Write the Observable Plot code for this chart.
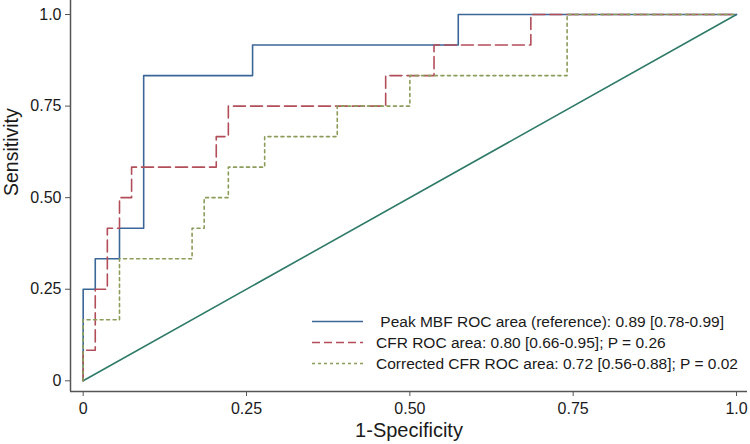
<!DOCTYPE html>
<html>
<head>
<meta charset="utf-8">
<script src="https://cdn.jsdelivr.net/npm/d3@7"></script>
<script src="https://cdn.jsdelivr.net/npm/@observablehq/plot@0.6"></script>
<style>
  html, body { margin: 0; padding: 0; background: #fff; }
  #wrap { position: relative; width: 750px; height: 444px; font-family: "Liberation Sans", Arial, Helvetica, sans-serif; }
  #legend { position: absolute; left: 312px; top: 311px; }
  .row { display: flex; align-items: center; height: 21px; font-size: 15.5px; color: #1a1a1a; white-space: pre; }
  .row svg { width: 52px; height: 21px; margin-right: 12px; flex: none; }
</style>
</head>
<body>
<div id="wrap"></div>
<script>
// ---- data ----
const seriesNames = [
  " Peak MBF ROC area (reference): 0.89 [0.78-0.99]",
  "CFR ROC area: 0.80 [0.66-0.95]; P = 0.26",
  "Corrected CFR ROC area: 0.72 [0.56-0.88]; P = 0.02"
];
// ROC step points (1-specificity, sensitivity)
const mbfX = [0, 0, 0.0185, 0.0556, 0.0926, 0.2593, 0.5741, 1];
const mbfY = [0, 0.25, 0.3333, 0.4167, 0.8333, 0.9167, 1, 1];
const cfrX = [0, 0, 0.0185, 0.0370, 0.0556, 0.0741, 0.2037, 0.2222, 0.4630, 0.5370, 0.6852, 1];
const cfrY = [0, 0.0833, 0.25, 0.4167, 0.5, 0.5833, 0.6667, 0.75, 0.8333, 0.9167, 1, 1];
const corrX = [0, 0, 0.0556, 0.1667, 0.1852, 0.2222, 0.2778, 0.3889, 0.5, 0.7407, 1];
const corrY = [0, 0.1667, 0.3333, 0.4167, 0.5, 0.5833, 0.6667, 0.75, 0.8333, 1, 1];
const refX = [0, 1];
const refY = [0, 1];
const tickValues = [0, 0.25, 0.5, 0.75, 1];
const tickLabels = ["0", "0.25", "0.50", "0.75", "1.0"];
const xTitle = "1-Specificity";
const yTitle = "Sensitivity";

const colors = { mbf: "#3b6698", cfr: "#b24d5a", corr: "#8c9c5a", ref: "#2f7b68" };
const dashes = { mbf: null, cfr: "12,5", corr: "3,3.5" };
const legendDashes = { mbf: null, cfr: "8,4", corr: "3,3" };

const pts = (xs, ys) => xs.map((x, i) => ({x, y: ys[i]}));
const mbf = pts(mbfX, mbfY), cfr = pts(cfrX, cfrY), corr = pts(corrX, corrY), ref = pts(refX, refY);

const xDom = [-0.0194, 1.0168];
const yDom = [-0.0292, 1.0383];
const fmt = d => tickLabels[tickValues.indexOf(d)];

const plot = Plot.plot({
  width: 750,
  height: 444,
  marginLeft: 70,
  marginRight: 3,
  marginTop: 0,
  marginBottom: 53,
  style: { fontFamily: "'Liberation Sans', Arial, Helvetica, sans-serif", background: "#fff" },
  x: { domain: xDom },
  y: { domain: yDom },
  marks: [
    Plot.line(ref, {x: "x", y: "y", stroke: colors.ref, strokeWidth: 1.6}),
    Plot.line(mbf, {x: "x", y: "y", curve: "step-after", stroke: colors.mbf, strokeWidth: 1.6}),
    Plot.line(cfr, {x: "x", y: "y", curve: "step-after", stroke: colors.cfr, strokeWidth: 1.6, strokeDasharray: dashes.cfr}),
    Plot.line(corr, {x: "x", y: "y", curve: "step-after", stroke: colors.corr, strokeWidth: 1.6, strokeDasharray: dashes.corr}),
    Plot.ruleX([xDom[0]], {stroke: "#555", strokeWidth: 1.5}),
    Plot.ruleY([yDom[0]], {stroke: "#555", strokeWidth: 1.5}),
    Plot.axisX({ticks: tickValues, tickFormat: fmt, tickSize: 5, tickPadding: 6, fontSize: 16, stroke: "#555", fill: "#1a1a1a", label: null}),
    Plot.axisY({ticks: tickValues, tickFormat: fmt, tickSize: 5, tickPadding: 4, fontSize: 16, stroke: "#555", fill: "#1a1a1a", label: null}),
    Plot.text([xTitle], {frameAnchor: "bottom", dy: 45, fontSize: 20, fill: "#1a1a1a"}),
    Plot.text([yTitle], {frameAnchor: "left", dx: -59, rotate: -90, fontSize: 19.5, fill: "#1a1a1a"})
  ]
});

const wrap = document.getElementById("wrap");
wrap.appendChild(plot);

// legend
const legend = document.createElement("div");
legend.id = "legend";
const keys = ["mbf", "cfr", "corr"];
keys.forEach((k, i) => {
  const row = document.createElement("div");
  row.className = "row";
  const svg = d3.create("svg").attr("width", 52).attr("height", 21);
  svg.append("line").attr("x1", 0).attr("x2", 51).attr("y1", 10.5).attr("y2", 10.5)
    .attr("stroke", colors[k]).attr("stroke-width", 1.4)
    .attr("stroke-dasharray", legendDashes[k]);
  row.appendChild(svg.node());
  const span = document.createElement("span");
  span.textContent = seriesNames[i];
  row.appendChild(span);
  legend.appendChild(row);
});
wrap.appendChild(legend);
</script>
</body>
</html>
